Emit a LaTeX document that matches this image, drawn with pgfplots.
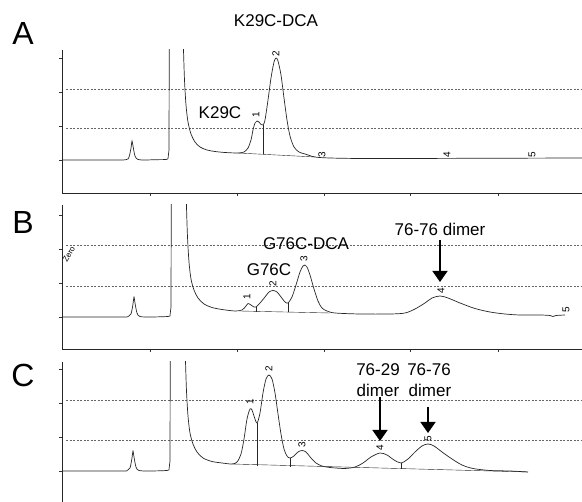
\documentclass[border=0pt]{standalone}
\usepackage{pgfplots}
\pgfplotsset{compat=1.18}
\usepackage{fontspec}
\setmainfont{Liberation Sans}
\usetikzlibrary{arrows.meta}
\pgfplotsset{
  chrom/.style={
    scale only axis, width=520pt, xmin=62, xmax=582,
    axis x line*=bottom, axis y line*=left,
    axis line style={-, line width=0.8pt, black!85},
    tick align=outside, major tick length=3pt,
    tick style={line width=0.5pt, black!80},
    ytick={0,34,68,102}, yticklabels={},
    xtick={150,237,324,410,498}, xticklabels={},
  },
  trace/.style={line width=0.7pt, black!85, no markers},
  grid/.style={line width=0.5pt, black!60, dash pattern=on 2pt off 1.5pt, no markers},
}
\tikzset{pk/.style={rotate=90, font=\fontsize{10}{10}\selectfont, inner sep=0.5pt}}
\newcommand{\lab}{\fontsize{17}{19}\selectfont}
\begin{document}
\begin{tikzpicture}
\useasboundingbox (0,0) rectangle (582pt,-502pt);
% ---------------- Panel A ----------------
\begin{axis}[chrom, height=143pt, ymin=-33, ymax=110, at={(62pt,-193pt)}, anchor=south west]
\addplot[grid] coordinates {(66,71) (582,71)};
\addplot[grid] coordinates {(66,32) (582,32)};
\addplot[trace, smooth, tension=0.5] coordinates {(62,0) (110,0) (126,0.3) (129,3) (131,12) (132,19) (133,14) (135,4) (138,0.5) (145,0) (155,0.3) (166,0.5) (168,1.5)};
\addplot[trace] coordinates {(168,1.5) (169,10) (169.3,130)};
\addplot[trace, smooth, tension=0.5] coordinates {(183,130) (183.5,110) (184.5,80) (186,55) (188,38) (191,26) (195,18) (200,13) (207,10) (215,8.5) (225,7.5) (238,7) (244,8) (248,12) (251,20) (253,30) (255,37) (257,39) (259,38) (261,35.5) (263,35) (265,40) (268,60) (271,82) (274,98) (276,102) (278,99) (281,85) (284,62) (287,40) (290,24) (294,13) (299,8) (305,6) (315,3) (330,2) (360,1.5) (400,1.5) (582,2)};
\addplot[trace] coordinates {(263,35) (263,6)};
\addplot[trace, line width=0.4pt] coordinates {(238,7) (315,3)};
\node[pk] at (axis cs:256,45) {1};
\node[pk] at (axis cs:276,106) {2};
\node[pk] at (axis cs:322,5) {3};
\node[pk] at (axis cs:447,5) {4};
\node[pk] at (axis cs:532,5) {5};
\node[font=\lab] at (axis cs:220,47) {K29C};
\end{axis}
% ---------------- Panel B ----------------
\begin{axis}[chrom, height=144pt, ymin=-32, ymax=112, at={(62pt,-349pt)}, anchor=south west]
\addplot[grid] coordinates {(66,72) (582,72)};
\addplot[grid] coordinates {(66,31) (582,31)};
\addplot[trace, smooth, tension=0.5] coordinates {(62,0) (120,0) (128,0.3) (131,3) (133,13) (134,20) (135,14) (137,4) (140,0.5) (150,0) (168,0.5) (170,1.5)};
\addplot[trace] coordinates {(170,1.5) (171,10) (171.3,130)};
\addplot[trace, smooth, tension=0.5] coordinates {(186,130) (186.5,110) (187.5,80) (189,55) (191,38) (194,27) (198,19) (204,13) (212,9.5) (222,7.5) (235,6) (242,7) (246,11) (248,13.5) (251,12) (254,10) (256,10) (260,14) (265,20) (269,25) (273,26.5) (277,25) (281,20) (285,15) (288,14) (292,20) (296,32) (300,45) (303,51) (305,52) (307,50) (310,42) (314,28) (318,16) (322,9) (327,6) (335,4) (360,3) (390,3) (405,4) (415,8) (425,14) (432,19) (440,21) (448,19) (460,14) (475,8.5) (490,5) (505,3) (520,2) (540,2) (550,1.5) (553,0.5) (556,1.5) (565,2)};
\addplot[trace] coordinates {(256,10) (256,5)};
\addplot[trace] coordinates {(288,14) (288,4.5)};
\addplot[trace, line width=0.4pt] coordinates {(240,6) (330,4)};
\node[pk] at (axis cs:247,20) {1};
\node[pk] at (axis cs:273,33) {2};
\node[pk] at (axis cs:304,58) {3};
\node[pk] at (axis cs:441,26) {4};
\node[pk] at (axis cs:566,7) {5};
\node[font=\fontsize{8}{8}\selectfont, inner sep=0pt, rotate=60] at (axis cs:69,63) {Zero};
\node[font=\lab] at (axis cs:269,47) {G76C};
\node[font=\lab] at (axis cs:306,73) {G76C-DCA};
\node[font=\lab] at (axis cs:440,88) {76-76 dimer};
\draw[line width=1.6pt, -{Triangle[width=15pt,length=11pt]}] (axis cs:440,77) -- (axis cs:440,35);
\end{axis}
% ---------------- Panel C ----------------
\begin{axis}[chrom, height=140pt, ymin=-31, ymax=109, at={(62pt,-502pt)}, anchor=south west, axis x line=none]
\addplot[grid] coordinates {(66,71) (582,71)};
\addplot[grid] coordinates {(66,31) (582,31)};
\addplot[trace, smooth, tension=0.5] coordinates {(62,0) (120,0) (127,0.3) (130,3) (132,13) (133,20) (134,14) (136,4) (139,0.5) (150,0) (167,0.5) (169,1.5)};
\addplot[trace] coordinates {(169,1.5) (170,10) (170.3,130)};
\addplot[trace, smooth, tension=0.5] coordinates {(185,130) (185.5,110) (186.5,80) (188,55) (190,38) (193,27) (197,19) (203,13) (212,9.5) (222,8) (232,7) (237,9) (241,17) (244,32) (247,52) (250,62) (252,61) (254,55) (257,48) (260,58) (263,78) (266,92) (269,96) (272,92) (275,78) (278,57) (281,37) (284,22) (287,15) (290,13) (294,15) (298,19) (302,20.5) (306,19) (311,13) (316,8) (322,5) (330,3.5) (345,2.5) (355,4) (363,8) (371,14) (380,18) (387,16) (394,11) (401,8) (408,12) (415,19) (422,25) (428,27) (434,25) (442,19) (452,12) (462,6) (473,2.5) (490,0.5) (510,0) (528,-1)};
\addplot[trace] coordinates {(257,48) (257,5)};
\addplot[trace] coordinates {(290,13) (290,4)};
\addplot[trace] coordinates {(401,8) (401,2)};
\addplot[trace, line width=0.4pt] coordinates {(232,7) (528,-1)};
\node[pk] at (axis cs:250,69) {1};
\node[pk] at (axis cs:269,102) {2};
\node[pk] at (axis cs:302,26) {3};
\node[pk] at (axis cs:380,23) {4};
\node[pk] at (axis cs:428,32) {5};
\node[font=\lab] at (axis cs:378,101) {76-29};
\node[font=\lab] at (axis cs:378,81) {dimer};
\node[font=\lab] at (axis cs:429,101) {76-76};
\node[font=\lab] at (axis cs:430,81) {dimer};
\draw[line width=1.6pt, -{Triangle[width=15pt,length=11pt]}] (axis cs:380,74) -- (axis cs:380,30);
\draw[line width=1.6pt, -{Triangle[width=15pt,length=11pt]}] (axis cs:428,64) -- (axis cs:428,38);
\end{axis}
% ---------------- Panel letters and title ----------------
\node[font=\fontsize{32}{34}\selectfont] at (23pt,-33pt) {A};
\node[font=\fontsize{32}{34}\selectfont] at (23pt,-222pt) {B};
\node[font=\fontsize{32}{34}\selectfont] at (23pt,-375pt) {C};
\node[font=\fontsize{17}{19}\selectfont] at (276pt,-21pt) {K29C-DCA};
\end{tikzpicture}
\end{document}
